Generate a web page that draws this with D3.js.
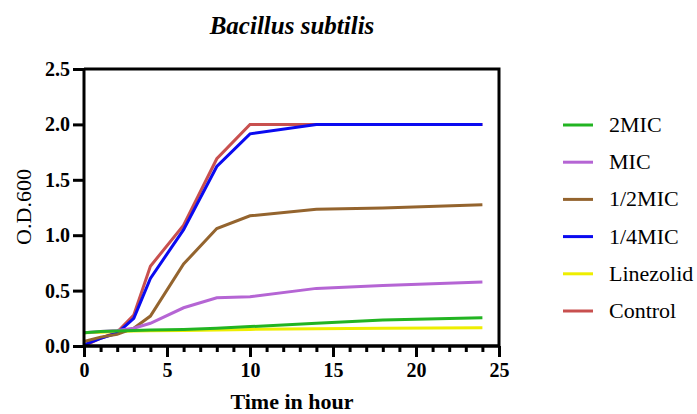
<!DOCTYPE html>
<html>
<head>
  <meta charset="utf-8">
  <title>Bacillus subtilis growth curve</title>
  <style>
    body { margin: 0; background: #fff; }
    text { font-family: "Liberation Serif", "Times New Roman", serif; }
  </style>
</head>
<body>
  <svg width="697" height="414"></svg>
  <script src="https://cdn.jsdelivr.net/npm/d3@7/dist/d3.min.js"></script>
  <script>
  // time points (hours)
  var hours = [0, 1, 2, 3, 4, 6, 8, 10, 14, 18, 24];

  // series values
  var names = ["2MIC", "MIC", "1/2MIC", "1/4MIC", "Linezolid", "Control"];
  var colors = ["#22b422", "#b565d4", "#94642e", "#0a0af0", "#eeee00", "#c8504f"];
  var od2MIC      = [0.12, 0.13, 0.135, 0.14, 0.145, 0.15, 0.16, 0.175, 0.205, 0.235, 0.255];
  var odMIC       = [0.12, 0.13, 0.14, 0.16, 0.205, 0.345, 0.435, 0.445, 0.52, 0.545, 0.578];
  var odHalfMIC   = [0.04, 0.08, 0.105, 0.16, 0.27, 0.74, 1.06, 1.175, 1.235, 1.245, 1.275];
  var odQuarterMIC= [0.01, 0.07, 0.115, 0.25, 0.61, 1.05, 1.62, 1.915, 2.0, 2.0, 2.0];
  var odLinezolid = [0.12, 0.125, 0.13, 0.135, 0.137, 0.14, 0.145, 0.15, 0.155, 0.16, 0.165];
  var odControl   = [0.0, 0.07, 0.125, 0.28, 0.72, 1.09, 1.69, 2.0, 2.0, 2.0, 2.0];
  var seriesValues = [od2MIC, odMIC, odHalfMIC, odQuarterMIC, odLinezolid, odControl];

  var xTicks = [0, 5, 10, 15, 20, 25];
  var yTicks = [0, 0.5, 1.0, 1.5, 2.0, 2.5];

  var svg = d3.select("svg");
  var plotL = 84, plotR = 499, plotT = 69, plotB = 346;

  var x = d3.scaleLinear().domain([0, 25]).range([plotL, plotR]);
  var y = d3.scaleLinear().domain([0, 2.5]).range([plotB, plotT]);

  // frame (top and right)
  svg.append("path")
    .attr("d", "M" + plotL + "," + plotT + "H" + plotR + "V" + plotB)
    .attr("fill", "none")
    .attr("stroke", "#000")
    .attr("stroke-width", 3);

  // lines, drawn in reverse legend order so green sits on top
  var line = d3.line()
    .x(function(d) { return x(d[0]); })
    .y(function(d) { return y(d[1]); });

  var order = d3.range(names.length).reverse();
  svg.selectAll(".series")
    .data(order)
    .enter()
    .append("path")
    .attr("class", "series")
    .attr("fill", "none")
    .attr("stroke", function(i) { return colors[i]; })
    .attr("stroke-width", 3)
    .attr("d", function(i) {
      return line(hours.map(function(h, k) { return [h, seriesValues[i][k]]; }));
    });

  // x axis with minor ticks
  var xMinor = svg.append("g")
    .attr("transform", "translate(0," + plotB + ")")
    .call(d3.axisBottom(x).tickValues(d3.range(0, 26, 1)).tickSize(6).tickFormat(""));
  var xMajor = svg.append("g")
    .attr("transform", "translate(0," + plotB + ")")
    .call(d3.axisBottom(x).tickValues(xTicks).tickSize(11).tickPadding(6).tickFormat(d3.format("d")));
  [xMinor, xMajor].forEach(function(g) {
    g.select(".domain").attr("stroke-width", 3).attr("d", "M" + plotL + ",0H" + plotR);
    g.selectAll(".tick line").attr("stroke-width", 3);
  });
  xMajor.selectAll(".tick text")
    .style("font-family", "'Liberation Serif', serif")
    .style("font-weight", "bold")
    .style("font-size", "20px")
    .attr("fill", "#000");

  // y axis
  var yAxis = svg.append("g")
    .attr("transform", "translate(" + plotL + ",0)")
    .call(d3.axisLeft(y).tickValues(yTicks).tickSize(11).tickPadding(3).tickFormat(d3.format(".1f")));
  yAxis.select(".domain").attr("stroke-width", 3).attr("d", "M0," + plotT + "V" + plotB);
  yAxis.selectAll(".tick line").attr("stroke-width", 3);
  yAxis.selectAll(".tick text")
    .style("font-family", "'Liberation Serif', serif")
    .style("font-weight", "bold")
    .style("font-size", "20px")
    .attr("fill", "#000");

  // titles
  svg.append("text")
    .attr("x", 292).attr("y", 34)
    .attr("text-anchor", "middle")
    .style("font-size", "25px")
    .style("font-weight", "bold")
    .style("font-style", "italic")
    .text("Bacillus subtilis");

  svg.append("text")
    .attr("x", 292).attr("y", 409)
    .attr("text-anchor", "middle")
    .style("font-size", "22px")
    .style("font-weight", "bold")
    .text("Time in hour");

  svg.append("text")
    .attr("transform", "translate(31,207) rotate(-90)")
    .attr("text-anchor", "middle")
    .style("font-size", "22px")
    .text("O.D.600");

  // legend
  var legend = svg.selectAll(".legend")
    .data(names)
    .enter()
    .append("g")
    .attr("class", "legend")
    .attr("transform", function(d, i) { return "translate(563," + (125 + i * 37.2) + ")"; });
  legend.append("line")
    .attr("x1", 0).attr("x2", 30)
    .attr("stroke", function(d, i) { return colors[i]; })
    .attr("stroke-width", 3);
  legend.append("text")
    .attr("x", 46).attr("y", 7)
    .style("font-size", "22px")
    .text(function(d) { return d; });
  </script>
</body>
</html>
